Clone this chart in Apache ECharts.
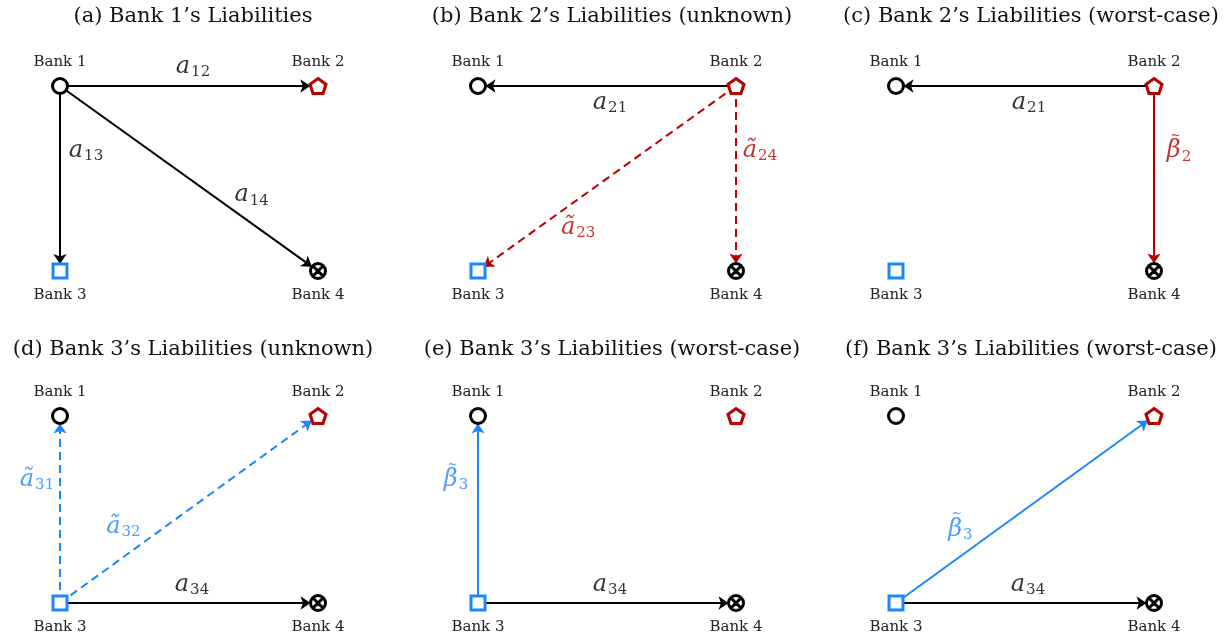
<!DOCTYPE html>
<html>
<head>
<meta charset="utf-8">
<script src="https://cdn.jsdelivr.net/npm/echarts@6/dist/echarts.min.js"></script>
<style>
  html, body { margin: 0; padding: 0; background: #fff; }
  #main { width: 1228px; height: 637px; }
</style>
</head>
<body>
<div id="main"></div>
<script>
var dom = document.getElementById('main');
var myChart = echarts.init(dom);

// panels
var panelTitles = [
    "(a) Bank 1\u2019s Liabilities",
    "(b) Bank 2\u2019s Liabilities (unknown)",
    "(c) Bank 2\u2019s Liabilities (worst-case)",
    "(d) Bank 3\u2019s Liabilities (unknown)",
    "(e) Bank 3\u2019s Liabilities (worst-case)",
    "(f) Bank 3\u2019s Liabilities (worst-case)"
];

// banks, placed on a unit square
var bankNames = ['Bank 1', 'Bank 2', 'Bank 3', 'Bank 4'];
var bankX = [0, 1, 0, 1];
var bankY = [1, 1, 0, 0];

// edges: [from, to, kind, symbol, subscript]
var edgesA = [[0, 1, 'known', 'a', '12'], [0, 2, 'known', 'a', '13'], [0, 3, 'known', 'a', '14']];
var edgesB = [[1, 0, 'known', 'a', '21'], [1, 2, 'unknown', '\u00e3', '23'], [1, 3, 'unknown', '\u00e3', '24']];
var edgesC = [[1, 0, 'known', 'a', '21'], [1, 3, 'worst', '\u03b2', '2']];
var edgesD = [[2, 0, 'unknown', '\u00e3', '31'], [2, 1, 'unknown', '\u00e3', '32'], [2, 3, 'known', 'a', '34']];
var edgesE = [[2, 0, 'worst', '\u03b2', '3'], [2, 3, 'known', 'a', '34']];
var edgesF = [[2, 1, 'worst', '\u03b2', '3'], [2, 3, 'known', 'a', '34']];
var panelEdges = [edgesA, edgesB, edgesC, edgesD, edgesE, edgesF];

// where each edge label sits: [fraction along edge, dx, dy]
var labelPlace = [
    [[0.5, 4, -19], [0.35, 26, 0], [0.65, 24, -11]],
    [[0.5, 3, 17], [0.6, -3, 31], [0.35, 24, 0]],
    [[0.5, 4, 17], [0.35, 25, -2]],
    [[0.66, -23, 0], [0.3, -14, -20], [0.5, 3, -18]],
    [[0.66, -22, -2], [0.5, 3, -18]],
    [[0.3, -13, -20], [0.5, 3, -18]]
];

var RED = '#b80000';
var BLUE = '#1a87ff';
var INK = '#000';
var SERIF = 'DejaVu Serif';
var bankColor = [INK, RED, BLUE, INK];

var bankSymbols = [
    {symbol: 'circle', symbolSize: 15},
    {symbol: 'path://M0,-10L9.51,-3.09L5.88,8.09L-5.88,8.09L-9.51,-3.09Z', symbolSize: [16, 15]},
    {symbol: 'rect', symbolSize: 14},
    {symbol: 'path://M10,0A10,10 0 1,1 -10,0A10,10 0 1,1 10,0ZM-7.07,-7.07L7.07,7.07M-7.07,7.07L7.07,-7.07', symbolSize: 15}
];

var colLeft = [60, 478, 896];
var rowTop = [86, 416];
var rowHeight = [185, 187];
var titleX = [193, 612, 1031];
var titleY = [17, 350];

var grids = [], xAxes = [], yAxes = [], series = [], graphics = [];

function edgeColor(e) {
    return e[2] === 'known' ? INK : bankColor[e[0]];
}

panelTitles.forEach(function (title, p) {
    var col = p % 3, row = Math.floor(p / 3);
    grids.push({left: colLeft[col], top: rowTop[row], width: 258, height: rowHeight[row]});
    xAxes.push({type: 'value', gridIndex: p, min: 0, max: 1, show: false});
    yAxes.push({type: 'value', gridIndex: p, min: 0, max: 1, show: false});

    graphics.push({
        type: 'text', x: titleX[col], y: titleY[row],
        style: {text: title, align: 'center', verticalAlign: 'middle', fill: '#111',
            font: '21px "' + SERIF + '"'}
    });

    var nodes = bankNames.map(function (name, k) {
        return {
            name: name,
            value: [bankX[k], bankY[k]],
            symbol: bankSymbols[k].symbol,
            symbolSize: bankSymbols[k].symbolSize,
            itemStyle: {color: '#fff', borderColor: bankColor[k], borderWidth: 3},
            label: {
                show: true, position: k < 2 ? 'top' : 'bottom', distance: k < 2 ? 7 : 8,
                formatter: '{b}', fontFamily: SERIF, fontSize: 15, color: '#222'
            }
        };
    });

    var edges = panelEdges[p];
    var links = edges.map(function (e) {
        return {
            source: e[0], target: e[1],
            lineStyle: {color: edgeColor(e), width: 2, type: e[2] === 'unknown' ? [8, 5] : 'solid', opacity: 1, curveness: 0}
        };
    });

    series.push({
        type: 'graph', layout: 'none', coordinateSystem: 'cartesian2d',
        xAxisIndex: p, yAxisIndex: p, silent: true, animation: false,
        edgeSymbol: ['none', 'arrow'], edgeSymbolSize: [0, 10],
        itemStyle: {borderWidth: 3},
        data: nodes, links: links
    });

    var labelData = edges.map(function (e, i) {
        var pl = labelPlace[p][i];
        var c = edgeColor(e);
        var x = bankX[e[0]] + (bankX[e[1]] - bankX[e[0]]) * pl[0];
        var y = bankY[e[0]] + (bankY[e[1]] - bankY[e[0]]) * pl[0];
        // worst-case payments carry a tilde drawn over the beta
        var text = e[2] === 'worst'
            ? '{t|~}\n{v|' + e[3] + '}{s|' + e[4] + '}'
            : '{v|' + e[3] + '}{s|' + e[4] + '}';
        return {
            value: [x, y],
            label: {
                offset: [pl[1], pl[2]],
                formatter: text,
                rich: {
                    t: {fontFamily: SERIF, fontSize: 12, color: c, lineHeight: 5, padding: [0, 7, 0, 0]},
                    v: {fontFamily: SERIF, fontStyle: 'italic', fontSize: 24, color: c},
                    s: {fontFamily: SERIF, fontSize: 15, color: c, padding: [11, 0, 0, 1]}
                }
            }
        };
    });

    series.push({
        type: 'scatter', xAxisIndex: p, yAxisIndex: p, silent: true, animation: false,
        symbolSize: 0,
        label: {show: true, position: 'inside'},
        data: labelData
    });
});

var option = {
    backgroundColor: '#fff',
    grid: grids,
    xAxis: xAxes,
    yAxis: yAxes,
    graphic: graphics,
    series: series
};

myChart.setOption(option);
</script>
</body>
</html>
